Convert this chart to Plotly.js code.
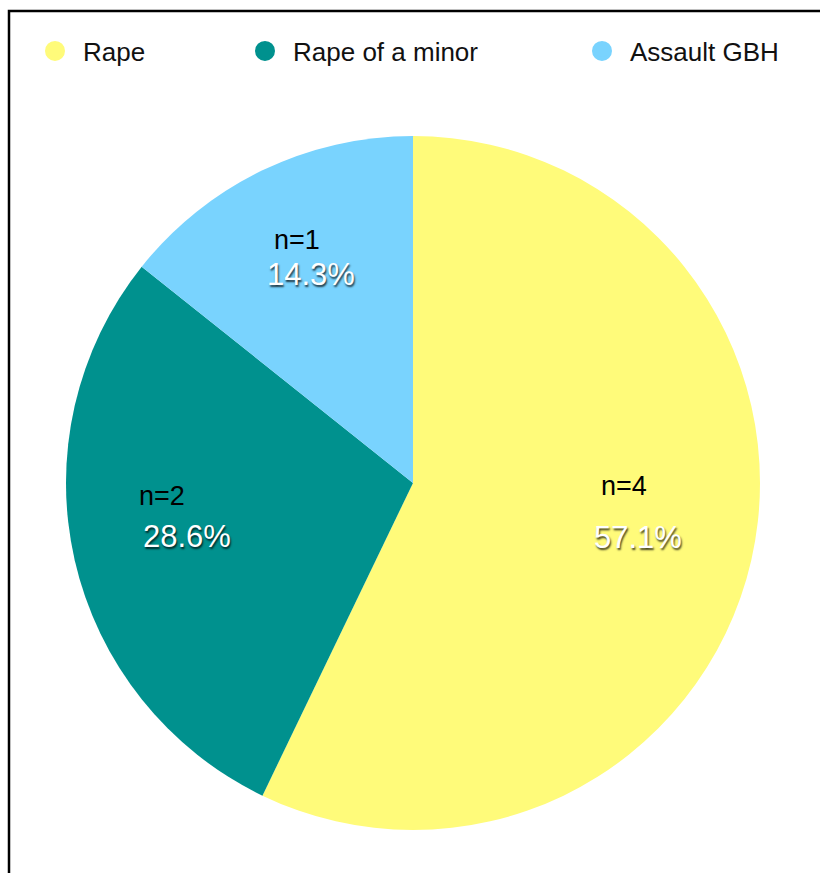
<!DOCTYPE html>
<html>
<head>
<meta charset="utf-8">
<script src="https://cdn.plot.ly/plotly-3.0.1.min.js"></script>
<style>html,body{margin:0;padding:0;background:#fff;}#chart{width:820px;height:873px;}</style>
</head>
<body>
<div id="chart"></div>
<script>
// ---- data ----
const categories = ["Rape", "Rape of a minor", "Assault GBH"];
const counts = [4, 2, 1];
const colors = ["#FFFB7A", "#00918E", "#79D3FE"];

// ---- layout helpers ----
const W = 820, H = 873;
const px = x => x / W;
const py = y => 1 - y / H;

const total = counts.reduce((a, b) => a + b, 0);
const percents = counts.map(v => (v / total * 100).toFixed(1) + "%");

// label anchor points (pixel positions in the figure)
const nPos = [[624, 486], [162, 496], [297, 240]];
const pPos = [[638, 537], [187, 536], [311, 274]];

const FONT = "Liberation Sans, Arial, Helvetica, sans-serif";

const traces = [{
  type: "pie",
  labels: categories,
  values: counts,
  sort: false,
  direction: "clockwise",
  rotation: 0,
  marker: { colors: colors, line: { width: 0 } },
  textinfo: "none",
  hoverinfo: "label+value+percent",
  showlegend: false,
  domain: { x: [px(66), px(760)], y: [py(830), py(136)] }
}];

// legend entries as marker-only traces with one legend each
const legendX = [27, 237, 574];
const legendNames = ["legend", "legend2", "legend3"];
categories.forEach((c, i) => {
  traces.push({
    type: "scatter",
    mode: "markers",
    x: [null], y: [null],
    name: c,
    legend: legendNames[i],
    marker: { color: colors[i], size: 16, symbol: "circle", line: { color: colors[i], width: 4 } },
    hoverinfo: "skip",
    showlegend: true
  });
});

const annotations = [];
counts.forEach((v, i) => {
  annotations.push({
    xref: "paper", yref: "paper",
    x: px(nPos[i][0]), y: py(nPos[i][1]),
    xanchor: "center", yanchor: "middle",
    text: "n=" + v, showarrow: false,
    font: { family: FONT, size: 27, color: "#000000" }
  });
  annotations.push({
    xref: "paper", yref: "paper",
    x: px(pPos[i][0]), y: py(pPos[i][1]),
    xanchor: "center", yanchor: "middle",
    text: percents[i], showarrow: false,
    font: { family: FONT, size: 31, color: "#FFFFFF", shadow: "1px 2px 2px rgba(0,0,0,0.75)" }
  });
});

const legendBase = {
  orientation: "h",
  yanchor: "middle", xanchor: "left",
  y: py(51),
  itemwidth: 46,
  bgcolor: "rgba(0,0,0,0)",
  font: { family: FONT, size: 26, color: "#111111" },
  itemclick: false, itemdoubleclick: false
};

const layout = {
  width: W, height: H,
  margin: { l: 0, r: 0, t: 0, b: 0 },
  paper_bgcolor: "#FFFFFF",
  plot_bgcolor: "#FFFFFF",
  xaxis: { visible: false, domain: [0, 1] },
  yaxis: { visible: false, domain: [0, 1] },
  legend: Object.assign({}, legendBase, { x: px(legendX[0]) }),
  legend2: Object.assign({}, legendBase, { x: px(legendX[1]) }),
  legend3: Object.assign({}, legendBase, { x: px(legendX[2]) }),
  annotations: annotations,
  shapes: [{
    type: "rect", xref: "paper", yref: "paper",
    x0: px(9), x1: px(840), y0: py(890), y1: py(11),
    line: { color: "#000000", width: 2.5 },
    fillcolor: "rgba(0,0,0,0)"
  }]
};

Plotly.newPlot("chart", traces, layout, { displayModeBar: false, staticPlot: true });
</script>
</body>
</html>
